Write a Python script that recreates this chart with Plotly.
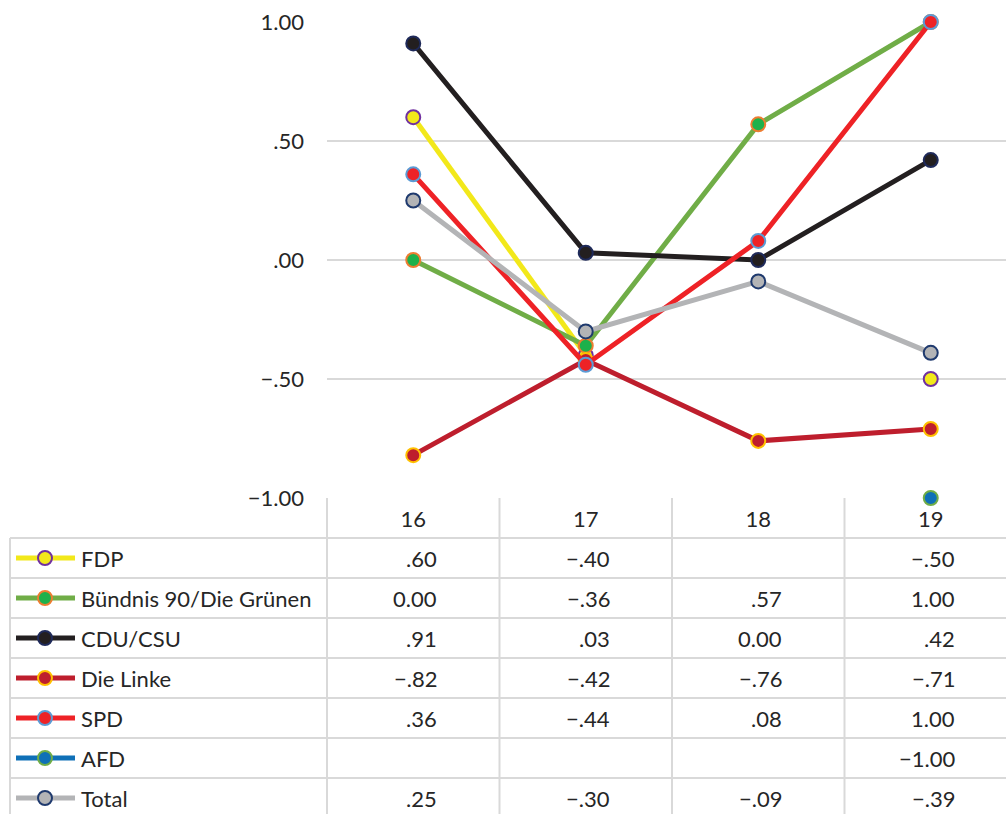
import plotly.graph_objects as go

# ---------------- data ----------------
categories = ["16", "17", "18", "19"]
series_names = ["FDP", "Bündnis 90/Die Grünen", "CDU/CSU", "Die Linke", "SPD", "AFD", "Total"]
fdp = [0.60, -0.40, None, -0.50]
gruene = [0.00, -0.36, 0.57, 1.00]
cdu = [0.91, 0.03, 0.00, 0.42]
linke = [-0.82, -0.42, -0.76, -0.71]
spd = [0.36, -0.44, 0.08, 1.00]
afd = [None, None, None, -1.00]
total = [0.25, -0.30, -0.09, -0.39]
series_values = [fdp, gruene, cdu, linke, spd, afd, total]
y_tickvals = [1.0, 0.5, 0.0, -0.5, -1.0]
y_ticktext = ["1.00", ".50", ".00", "\u2212.50", "\u22121.00"]

# ---------------- styles ----------------
line_colors = ["#F2E81A", "#70AD47", "#231F20", "#BE1E2D", "#EE2226", "#0F70B7", "#B3B4B6"]
fill_colors = ["#F2E81A", "#1DB14B", "#231F20", "#BE1E2D", "#EE2226", "#0F70B7", "#B3B4B6"]
edge_colors = ["#7030A0", "#ED7D31", "#1F2A5A", "#FFC000", "#5B9BD5", "#70AD47", "#1F3A6E"]

W, H = 1006, 814
FONT = "Lato"
TXT = "#262626"
GRID = "#D9D9D9"
plot_left = 327
col_w = 172.5
y_top_px, y_bot_px = 22, 498
header_top = 498
row_top = 538
row_h = 40


def fmt(v):
    if v is None:
        return ""
    s = "%.2f" % abs(v)
    if 0 < abs(v) < 1:
        s = s[1:]
    return ("\u2212" if v < 0 else "") + s


fig = go.Figure()

# legend keys inside the data table (full-page pixel axis)
for i, (lc, fc, ec) in enumerate(zip(line_colors, fill_colors, edge_colors)):
    yc = row_top + row_h * (i + 0.5)
    fig.add_trace(go.Scatter(
        x=[16, 75], y=[yc, yc], mode="lines", line=dict(color=lc, width=5),
        showlegend=False, xaxis="x2", yaxis="y2", hoverinfo="skip", cliponaxis=False,
    ))
    fig.add_trace(go.Scatter(
        x=[45], y=[yc], mode="markers",
        marker=dict(size=14, color=fc, line=dict(color=ec, width=2)),
        showlegend=False, xaxis="x2", yaxis="y2", hoverinfo="skip", cliponaxis=False,
    ))

for name, vals, lc, fc, ec in zip(series_names, series_values, line_colors, fill_colors, edge_colors):
    fig.add_trace(go.Scatter(
        x=categories, y=vals, name=name, mode="lines+markers",
        line=dict(color=lc, width=5), connectgaps=False,
        marker=dict(size=14, color=fc, line=dict(color=ec, width=2)),
        cliponaxis=False, showlegend=False, xaxis="x", yaxis="y",
    ))

shapes = []
n_rows = len(series_names)
for r in range(n_rows + 1):
    yy = row_top + r * row_h
    shapes.append(dict(type="line", xref="x2", yref="y2", x0=10, x1=W, y0=yy, y1=yy,
                       line=dict(color=GRID, width=2), layer="below"))
shapes.append(dict(type="line", xref="x2", yref="y2", x0=10, x1=10, y0=row_top, y1=H,
                   line=dict(color=GRID, width=2), layer="below"))
for c in range(len(categories)):
    xx = plot_left + c * col_w
    shapes.append(dict(type="line", xref="x2", yref="y2", x0=xx, x1=xx, y0=header_top, y1=H,
                       line=dict(color=GRID, width=2), layer="below"))

annotations = []
for i, name in enumerate(series_names):
    yc = row_top + row_h * (i + 0.5)
    annotations.append(dict(x=79, y=yc, xref="x2", yref="y2", text=name, showarrow=False,
                            xanchor="left", yanchor="middle",
                            font=dict(family=FONT, size=22, color=TXT)))
    for j, v in enumerate(series_values[i]):
        if v is None:
            continue
        annotations.append(dict(x=j, y=yc, xref="x", yref="y2", text=fmt(v), showarrow=False,
                                xanchor="right", yanchor="middle", xshift=26,
                                font=dict(family=FONT, size=22, color=TXT)))

fig.update_layout(
    width=W, height=H, autosize=False,
    margin=dict(l=0, r=0, t=0, b=0, pad=0),
    paper_bgcolor="white", plot_bgcolor="rgba(0,0,0,0)",
    font=dict(family=FONT, size=22, color=TXT),
    xaxis=dict(domain=[plot_left / W, 1], type="category", categoryorder="array",
               categoryarray=categories, range=[-0.5, -0.5 + (W - plot_left) / col_w],
               showgrid=False, zeroline=False, showline=False, ticks="", automargin=False,
               ticklabelstandoff=6, tickfont=dict(family=FONT, size=22, color=TXT), anchor="y"),
    yaxis=dict(domain=[(H - y_bot_px) / H, (H - y_top_px) / H], range=[-1, 1],
               tickvals=y_tickvals, ticktext=y_ticktext, showgrid=True, gridcolor=GRID,
               gridwidth=2, zeroline=False, showline=False, ticks="", automargin=False,
               ticklabelstandoff=22, tickfont=dict(family=FONT, size=22, color=TXT), anchor="x"),
    xaxis2=dict(domain=[0, 1], range=[0, W], visible=False, anchor="y2", automargin=False),
    yaxis2=dict(domain=[0, 1], range=[H, 0], visible=False, anchor="x2", automargin=False),
    shapes=shapes,
    annotations=annotations,
)

fig.write_html("out.html", config={"displayModeBar": False},
               post_script="document.body.style.margin='0';document.body.style.overflow='hidden';")
